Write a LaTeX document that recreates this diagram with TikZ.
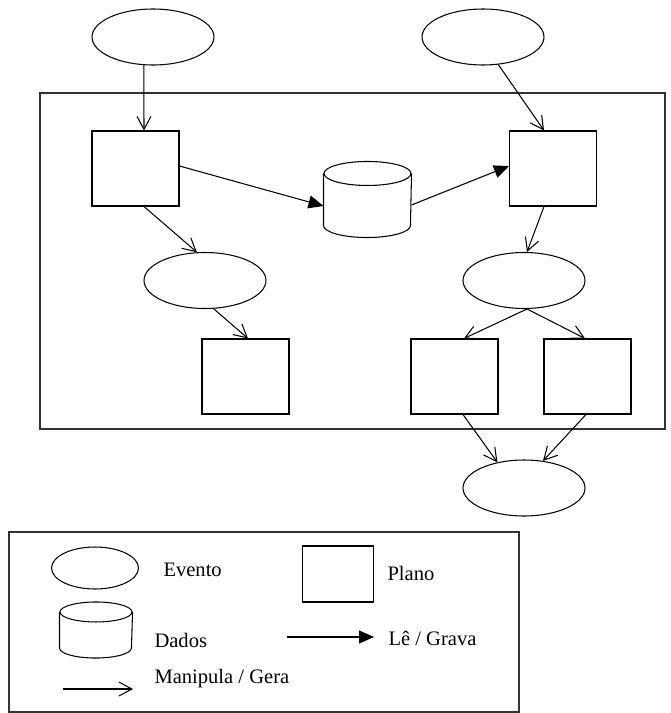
\documentclass[tikz,border=0pt]{standalone}
\usepackage{fontspec}
\setmainfont{Liberation Serif}
\usetikzlibrary{arrows.meta,positioning,calc,shapes.geometric}
% drum outline on a plain node: #1 node, #2 x radius, #3 y radius
\newcommand{\drawdados}[3]{%
  \draw ([yshift=-#3]#1.north) ellipse [x radius=#2, y radius=#3];
  \draw ([yshift=-#3]#1.north west) -- ([yshift=#3]#1.south west)
    arc[start angle=180,end angle=360,x radius=#2,y radius=#3]
    -- ([yshift=-#3]#1.north east);}

\begin{document}
\begin{tikzpicture}[
  x=0.02cm, y=-0.02cm,
  line width=0.6pt,
  evento/.style={draw,ellipse,minimum width=2.44cm,minimum height=1.12cm,
                 inner sep=0pt},
  plano/.style={draw,rectangle,minimum width=1.74cm,minimum height=1.5cm,
                inner sep=0pt},
  dados/.style={rectangle,minimum width=1.74cm,minimum height=1.5cm,
                inner sep=0pt},
  gera/.style={-{Straight Barb[length=0.26cm,width=0.28cm]}},
  le/.style={-{Triangle[length=0.3cm,width=0.26cm]}},
  lbl/.style={font=\fontsize{11.7}{14}\selectfont,anchor=west,inner sep=0pt},
]
\useasboundingbox (0,0) rectangle (670,713);

%% ── Outer frame ──────────────────────────────────────────────────────────────
\draw[line width=0.8pt,black!80] (40,93) rectangle (665,429);

%% ── Events and plans ─────────────────────────────────────────────────────────
\node[evento] (E1) at (153,37) {};
\node[evento] (E2) at (483,37) {};

\node[plano] (P1) at (135.5,168.5) {};
\node[dados] (D)  at (367.5,199.5) {};
\drawdados{D}{0.87cm}{0.24cm}
\node[plano] (P2) at (553,168.5) {};

\node[evento] (E3) at (205,280.5) {};
\node[evento] (E4) at (524,280.5) {};

\node[plano] (P3) at (245.5,376.5) {};
\node[plano] (P4) at (454.5,376.5) {};
\node[plano] (P5) at (587.5,376.5) {};

\node[evento] (E5) at (524,488) {};

%% ── Manipula / Gera ──────────────────────────────────────────────────────────
\draw[gera] (E1.252) -- ($(P1.north)+(8.5,0)$);
\draw[gera] (E2.299) -- ($(P2.north)+(-9,0)$);
\draw[gera] ($(P1.south)+(8.5,0)$) -- (E3.106);
\draw[gera] ($(P2.south)+(-9,0)$) -- (E4.84);
\draw[gera] (E3.287) -- ($(P3.north)+(2.5,0)$);
\draw[gera] (E4.276) -- ($(P4.north)+(9.5,0)$);
\draw[gera] (E4.276) -- ($(P5.north)+(-2.5,0)$);
\draw[gera] ($(P4.south)+(8.5,0)$) -- (E5.136);
\draw[gera] ($(P5.south)+(-1.5,0)$) -- (E5.55);

%% ── Lê / Grava ───────────────────────────────────────────────────────────────
\draw[le] ($(P1.east)+(0,-2.5)$) -- ($(D.west)+(0,6.5)$);
\draw[le] ($(D.east)+(0,5.5)$) -- ($(P2.west)+(0,-2.5)$);

%% ── Legend ───────────────────────────────────────────────────────────────────
\draw[black!80] (9,532) rectangle (519,712);

\node[evento,minimum width=1.74cm,minimum height=0.84cm] (LE) at (95,568) {};
\node[lbl] (LEt) at (163,570) {Evento};

\node[plano,minimum width=1.42cm,minimum height=1.12cm] (LP) at (338,574) {};
\node[lbl] (LPt) at (387,573) {Plano};

\node[dados,minimum width=1.44cm,minimum height=1.1cm] (LD) at (96,630) {};
\drawdados{LD}{0.72cm}{0.2cm}
\node[lbl] (LDt) at (154,640) {Dados};

\coordinate (la) at (287,637);
\coordinate (lb) at (374,637);
\draw[le] (la) -- (lb);
\node[lbl] (LLt) at (388,638) {Lê / Grava};

\coordinate (ga) at (63,689);
\coordinate (gb) at (133,689);
\draw[gera] (ga) -- (gb);
\node[lbl] (LGt) at (154,679) {Manipula / Gera};

\end{tikzpicture}
\end{document}
